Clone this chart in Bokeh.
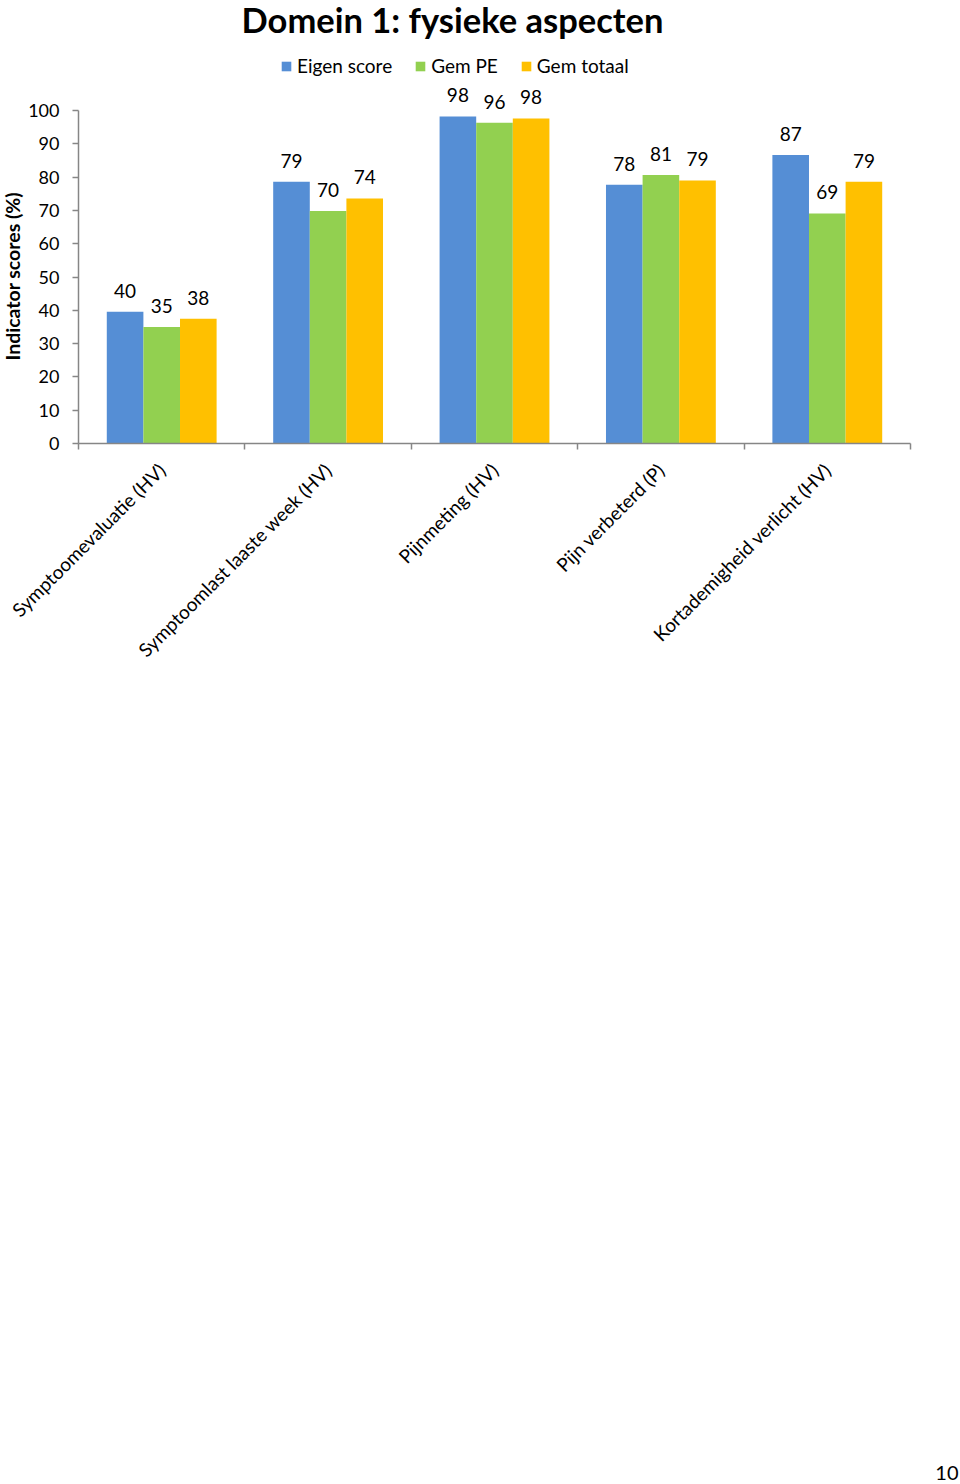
import math
from bokeh.plotting import figure
from bokeh.models import (Range1d, FixedTicker, ColumnDataSource, LabelSet, Title,
                          Legend, LegendItem)
from bokeh.core.properties import value
from bokeh.layouts import column
from bokeh.embed import file_html
from bokeh.resources import INLINE

categories = ["Symptoomevaluatie (HV)", "Symptoomlast laaste week (HV)", "Pijnmeting (HV)",
              "Pijn verbeterd (P)", "Kortademigheid verlicht (HV)"]
series_names = ["Eigen score", "Gem PE", "Gem totaal"]
eigen_score = [39.6, 78.6, 98.2, 77.7, 86.6]
gem_pe = [35.0, 69.8, 96.3, 80.6, 69.1]
gem_totaal = [37.5, 73.6, 97.6, 79.0, 78.6]
eigen_labels = ["40", "79", "98", "78", "87"]
pe_labels = ["35", "70", "96", "81", "69"]
totaal_labels = ["38", "74", "98", "79", "79"]
y_ticks = [0, 10, 20, 30, 40, 50, 60, 70, 80, 90, 100]
title_text = "Domein 1: fysieke aspecten"
y_label = "Indicator scores (%)"
page_number = "10"

colors = ["#558ED5", "#92D050", "#FFC000"]
FONT = "Lato"
AXIS_COL = "#868686"

W = 960
H1 = 700
H2 = 1484 - H1
L = 78
X_END_PX = 910.0       # pixel column where the category axis ends
Y0_PX = 443.0          # pixel row of value 0
PX_PER_UNIT = 3.33     # pixels per percentage point
B1 = H1 - int(Y0_PX)

n = len(categories)
px_per_cat = (X_END_PX - L) / n
x_end = (W - L) / px_per_cat
y_end = Y0_PX / PX_PER_UNIT

p = figure(width=W, height=H1, output_backend="svg", toolbar_location=None,
           x_range=Range1d(0, x_end), y_range=Range1d(0, y_end),
           min_border_left=L, min_border_right=0, min_border_top=0, min_border_bottom=B1,
           background_fill_color="white", border_fill_color="white")
p.outline_line_color = None
p.xgrid.visible = False
p.ygrid.visible = False

def px_to_x(px):
    return (px - L) / px_per_cat

def px_to_y(py):
    return (Y0_PX - py) / PX_PER_UNIT

centers = [i + 0.5 for i in range(n)]
bw = 0.22
offsets = [-bw, 0.0, bw]
all_vals = [eigen_score, gem_pe, gem_totaal]
all_labels = [eigen_labels, pe_labels, totaal_labels]

renderers = []
for k in range(3):
    src = ColumnDataSource(dict(x=[c + offsets[k] for c in centers], top=all_vals[k],
                                lab=all_labels[k]))
    r = p.vbar(x="x", top="top", width=bw, bottom=0, source=src,
               fill_color=colors[k], line_color=None)
    renderers.append(r)
    ls = LabelSet(x="x", y="top", text="lab", source=src, text_align="center",
                  text_baseline="alphabetic", y_offset=14, text_font=value(FONT),
                  text_font_size=value("19px"), text_color=value("black"))
    p.add_layout(ls)

# x axis (line limited to the five categories)
xa = p.xaxis[0]
xa.bounds = (0, n)
xa.ticker = FixedTicker(ticks=centers, minor_ticks=list(range(n + 1)))
xa.major_label_overrides = {c: cat for c, cat in zip(centers, categories)}
xa.major_label_orientation = math.pi / 4
xa.major_tick_line_color = None
xa.minor_tick_line_color = AXIS_COL
xa.minor_tick_out = 6
xa.minor_tick_in = 0
xa.axis_line_color = AXIS_COL
xa.axis_line_width = 1.5
xa.minor_tick_line_width = 1.5
xa.major_label_text_font = FONT
xa.major_label_text_font_size = "19px"
xa.major_label_text_color = "black"
xa.major_label_standoff = 17

# y axis (line limited to 0..100)
ya = p.yaxis[0]
ya.bounds = (0, 100)
ya.ticker = FixedTicker(ticks=y_ticks)
ya.minor_tick_line_color = None
ya.major_tick_out = 6
ya.major_tick_in = 0
ya.major_tick_line_color = AXIS_COL
ya.axis_line_color = AXIS_COL
ya.axis_line_width = 1.5
ya.major_tick_line_width = 1.5
ya.major_label_text_font = FONT
ya.major_label_text_font_size = "18px"
ya.major_label_text_color = "black"
ya.major_label_standoff = 13

# y axis label as a left-side title, positioned beside the 0..100 span
p.add_layout(Title(text=y_label, align="left", offset=Y0_PX - 360, standoff=0,
                   vertical_align="top",
                   text_font=FONT, text_font_style="bold", text_font_size="19.5px",
                   text_color="black"), "left")

# chart title
p.text(x=[px_to_x(452)], y=[px_to_y(19)], text=[title_text], text_align="center",
       text_baseline="alphabetic", text_font=value(FONT), text_font_style="bold",
       text_font_size="34.5px", text_color="black")

legend = Legend(items=[LegendItem(label=series_names[k], renderers=[renderers[k]]) for k in range(3)],
                orientation="horizontal", location=(202, int(Y0_PX - 77)),
                glyph_width=12, glyph_height=12, label_standoff=5, spacing=22,
                padding=0, margin=0, border_line_color=None, background_fill_alpha=0,
                label_text_font=FONT, label_text_font_size="19px", label_text_color="black",
                label_height=18)
p.add_layout(legend)

# lower part of the page with the page number (data x equals pixel x)
p2 = figure(width=W, height=H2, output_backend="svg", toolbar_location=None,
            x_axis_location=None, y_axis_location=None,
            x_range=Range1d(L, W), y_range=Range1d(H2, 0),
            min_border_left=L, min_border_right=0, min_border_top=0, min_border_bottom=0,
            background_fill_color="white", border_fill_color="white")
p2.outline_line_color = None
p2.grid.visible = False
p2.text(x=[W - 2], y=[1472 - H1], text=[page_number], text_align="right",
        text_baseline="alphabetic", text_font=value(FONT), text_font_size="20px",
        text_color="black")

open("out.html", "w").write(file_html(column(p, p2, spacing=0), INLINE))
